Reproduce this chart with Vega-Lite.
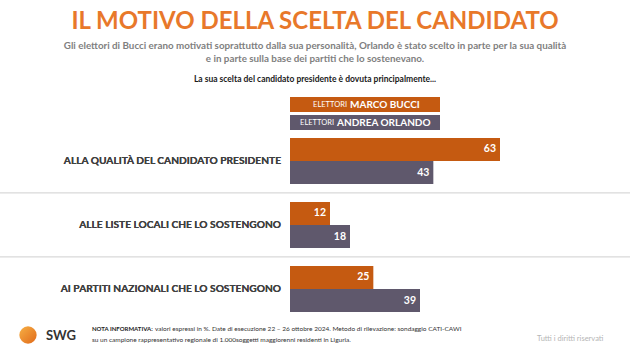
{
  "$schema": "https://vega.github.io/schema/vega-lite/v6.json",
  "width": 630,
  "height": 354,
  "autosize": {"type": "none"},
  "padding": 0,
  "background": "white",
  "config": {"view": {"stroke": null}, "font": "Lato"},
  "data": {
    "values": [
      {"cat": "ALLA QUALITÀ DEL CANDIDATO PRESIDENTE", "serie": "Elettori Marco Bucci", "v": 63},
      {"cat": "ALLA QUALITÀ DEL CANDIDATO PRESIDENTE", "serie": "Elettori Andrea Orlando", "v": 43},
      {"cat": "ALLE LISTE LOCALI CHE LO SOSTENGONO", "serie": "Elettori Marco Bucci", "v": 12},
      {"cat": "ALLE LISTE LOCALI CHE LO SOSTENGONO", "serie": "Elettori Andrea Orlando", "v": 18},
      {"cat": "AI PARTITI NAZIONALI CHE LO SOSTENGONO", "serie": "Elettori Marco Bucci", "v": 25},
      {"cat": "AI PARTITI NAZIONALI CHE LO SOSTENGONO", "serie": "Elettori Andrea Orlando", "v": 39}
    ]
  },
  "layer": [
    {
      "data": {"values": [{"cat": "ALLE LISTE LOCALI CHE LO SOSTENGONO"}, {"cat": "AI PARTITI NAZIONALI CHE LO SOSTENGONO"}]},
      "mark": {"type": "rule", "color": "#d9d9d9", "strokeWidth": 1.3},
      "encoding": {"y": {"field": "cat", "type": "nominal", "bandPosition": -0.196, "axis": null,
        "scale": {
          "domain": ["ALLA QUALITÀ DEL CANDIDATO PRESIDENTE", "ALLE LISTE LOCALI CHE LO SOSTENGONO", "AI PARTITI NAZIONALI CHE LO SOSTENGONO"],
          "range": [129, 321], "paddingInner": 0.28, "paddingOuter": 0.14
        }}}
    },
    {
      "mark": {"type": "bar", "orient": "horizontal"},
      "encoding": {
        "y": {"field": "cat", "type": "nominal", "axis": null},
        "yOffset": {"field": "serie", "type": "nominal", "sort": ["Elettori Marco Bucci", "Elettori Andrea Orlando"], "scale": {"paddingInner": 0, "paddingOuter": 0}},
        "x": {"field": "v", "type": "quantitative", "axis": null, "scale": {"domain": [-87, 102], "nice": false, "zero": false}},
        "color": {"field": "serie", "type": "nominal", "legend": null, "scale": {"domain": ["Elettori Marco Bucci", "Elettori Andrea Orlando"], "range": ["#C55A11", "#5F586C"]}}
      }
    },
    {
      "mark": {"type": "text", "align": "right", "baseline": "middle", "dx": -4, "color": "white", "fontWeight": "bold", "fontSize": 10.5},
      "encoding": {
        "y": {"field": "cat", "type": "nominal"},
        "yOffset": {"field": "serie", "type": "nominal", "sort": ["Elettori Marco Bucci", "Elettori Andrea Orlando"]},
        "x": {"field": "v", "type": "quantitative"},
        "text": {"field": "v", "type": "quantitative"}
      }
    },
    {
      "mark": {"type": "text", "align": "right", "baseline": "middle", "color": "#404040", "fontWeight": "bold", "fontSize": 10.2},
      "encoding": {
        "y": {"field": "cat", "type": "nominal"},
        "x": {"datum": -2.7, "type": "quantitative"},
        "text": {"field": "cat"}
      }
    },
    {
      "data": {"values": [{"t": "IL MOTIVO DELLA SCELTA DEL CANDIDATO"}]},
      "mark": {"type": "text", "align": "center", "baseline": "middle", "color": "#E8782A", "fontWeight": "bold", "fontSize": 24},
      "encoding": {"text": {"field": "t"}, "x": {"value": 315}, "y": {"value": 22}}
    },
    {
      "data": {"values": [{"t": "Gli elettori di Bucci erano motivati soprattutto dalla sua personalità, Orlando è stato scelto in parte per la sua qualità"}]},
      "mark": {"type": "text", "align": "center", "baseline": "middle", "color": "#7f7f7f", "fontWeight": "bold", "fontSize": 9.8},
      "encoding": {"text": {"field": "t"}, "x": {"value": 315}, "y": {"value": 46}}
    },
    {
      "data": {"values": [{"t": "e in parte sulla base dei partiti che lo sostenevano."}]},
      "mark": {"type": "text", "align": "center", "baseline": "middle", "color": "#7f7f7f", "fontWeight": "bold", "fontSize": 9.8},
      "encoding": {"text": {"field": "t"}, "x": {"value": 315}, "y": {"value": 59}}
    },
    {
      "data": {"values": [{"t": "La sua scelta del candidato presidente è dovuta principalmente..."}]},
      "mark": {"type": "text", "align": "center", "baseline": "middle", "color": "#1a1a1a", "fontWeight": "bold", "fontSize": 8.5},
      "encoding": {"text": {"field": "t"}, "x": {"value": 315}, "y": {"value": 79}}
    },
    {
      "data": {"values": [{"serie": "Elettori Marco Bucci"}]},
      "mark": {"type": "rect", "color": "#C55A11"},
      "encoding": {"x": {"datum": 0, "type": "quantitative"}, "x2": {"datum": 45}, "y": {"value": 97}, "y2": {"value": 112}}
    },
    {
      "data": {"values": [{"serie": "Elettori Andrea Orlando"}]},
      "mark": {"type": "rect", "color": "#5F586C"},
      "encoding": {"x": {"datum": 0, "type": "quantitative"}, "x2": {"datum": 45}, "y": {"value": 115}, "y2": {"value": 130}}
    },
    {
      "data": {"values": [{"t": "ELETTORI"}]},
      "mark": {"type": "text", "align": "right", "baseline": "middle", "color": "white", "fontSize": 7.5},
      "encoding": {"text": {"field": "t"}, "x": {"value": 347}, "y": {"value": 105}}
    },
    {
      "data": {"values": [{"t": "MARCO BUCCI"}]},
      "mark": {"type": "text", "align": "left", "baseline": "middle", "color": "white", "fontWeight": "bold", "fontSize": 10},
      "encoding": {"text": {"field": "t"}, "x": {"value": 350}, "y": {"value": 105}}
    },
    {
      "data": {"values": [{"t": "ELETTORI"}]},
      "mark": {"type": "text", "align": "right", "baseline": "middle", "color": "white", "fontSize": 7.5},
      "encoding": {"text": {"field": "t"}, "x": {"value": 334}, "y": {"value": 123}}
    },
    {
      "data": {"values": [{"t": "ANDREA ORLANDO"}]},
      "mark": {"type": "text", "align": "left", "baseline": "middle", "color": "white", "fontWeight": "bold", "fontSize": 10},
      "encoding": {"text": {"field": "t"}, "x": {"value": 337}, "y": {"value": 123}}
    },
    {
      "data": {"values": [{"t": "logo"}]},
      "mark": {"type": "point", "shape": "circle", "filled": true, "size": 300, "opacity": 1,
        "color": {"gradient": "linear", "x1": 0, "y1": 0, "x2": 1, "y2": 1, "stops": [{"offset": 0, "color": "#F7B045"}, {"offset": 1, "color": "#E06A1A"}]}},
      "encoding": {"x": {"value": 28}, "y": {"value": 335}}
    },
    {
      "data": {"values": [{"t": "SWG"}]},
      "mark": {"type": "text", "align": "left", "baseline": "middle", "color": "#333333", "fontWeight": "bold", "fontSize": 13},
      "encoding": {"text": {"field": "t"}, "x": {"value": 46}, "y": {"value": 336}}
    },
    {
      "data": {"values": [{"t": "NOTA INFORMATIVA:"}]},
      "mark": {"type": "text", "align": "left", "baseline": "middle", "color": "#222222", "fontWeight": "bold", "fontSize": 6},
      "encoding": {"text": {"field": "t"}, "x": {"value": 92}, "y": {"value": 329}}
    },
    {
      "data": {"values": [{"t": "valori espressi in %. Date di esecuzione 22 – 26 ottobre 2024. Metodo di rilevazione: sondaggio CATI-CAWI"}]},
      "mark": {"type": "text", "align": "left", "baseline": "middle", "color": "#333333", "fontSize": 6.5},
      "encoding": {"text": {"field": "t"}, "x": {"value": 155}, "y": {"value": 329}}
    },
    {
      "data": {"values": [{"t": "su un campione rappresentativo regionale di 1.000soggetti maggiorenni residenti in Liguria."}]},
      "mark": {"type": "text", "align": "left", "baseline": "middle", "color": "#333333", "fontSize": 6.5},
      "encoding": {"text": {"field": "t"}, "x": {"value": 92}, "y": {"value": 340}}
    },
    {
      "data": {"values": [{"t": "Tutti i diritti riservati"}]},
      "mark": {"type": "text", "align": "left", "baseline": "middle", "color": "#b5b5b5", "fontSize": 7.5},
      "encoding": {"text": {"field": "t"}, "x": {"value": 537}, "y": {"value": 339}}
    }
  ]
}
